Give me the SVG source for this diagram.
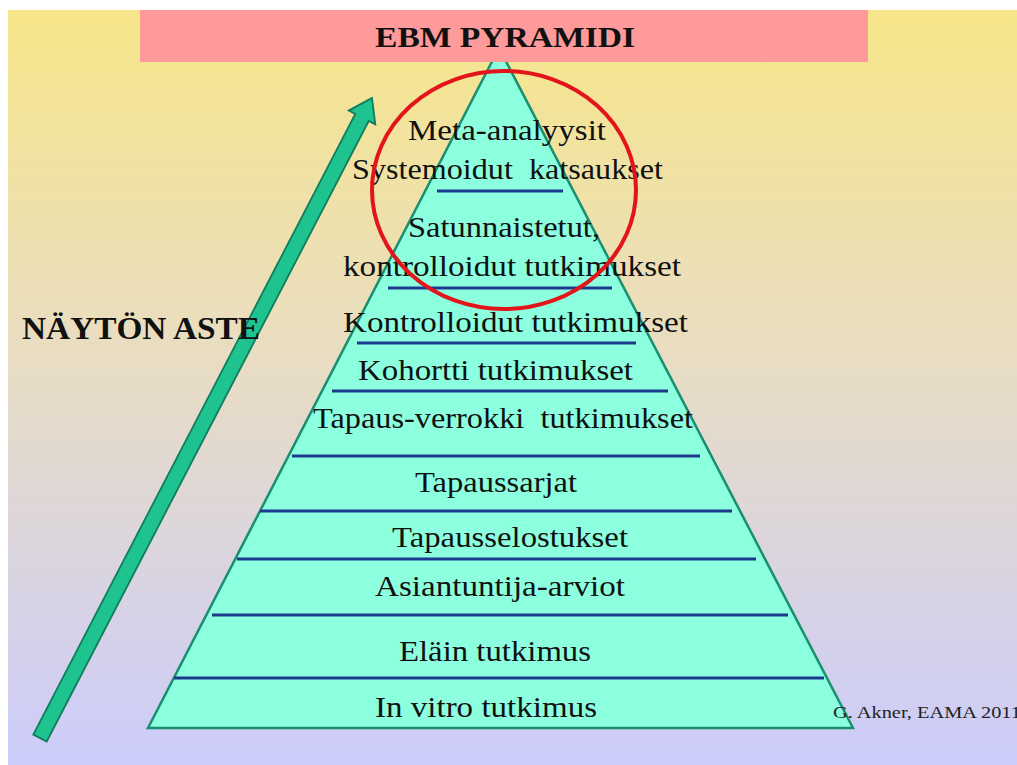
<svg xmlns="http://www.w3.org/2000/svg" width="1017" height="765" viewBox="0 0 1017 765">
  <defs>
    <linearGradient id="bg" x1="0" y1="0" x2="0" y2="1">
      <stop offset="0" stop-color="#F7E689"/>
      <stop offset="0.45" stop-color="#E9DDC2"/>
      <stop offset="1" stop-color="#CCCCFB"/>
    </linearGradient>
    <style>
      .div { stroke: #1B3A8E; stroke-width: 3; }
    </style>
  </defs>

  <!-- page -->
  <rect x="0" y="0" width="1017" height="765" fill="#FFFFFF"/>
  <rect x="8" y="10" width="1009" height="755" fill="url(#bg)"/>

  <!-- evidence-level arrow -->
  <g id="arrow">
    <polygon points="372,98 375.3,124.4 368.7,121 46.7,741.5 33.3,734.5 355.3,114 348.7,110.6" fill="#1FC38F" stroke="#0F7D5C" stroke-width="1.8"/>
  </g>

  <!-- pyramid body -->
  <g id="pyramid">
    <polygon points="499,48 853,728 148,728" fill="#8CFFDF" stroke="#1A8F70" stroke-width="2.5"/>
  </g>

  <!-- title bar -->
  <g id="title" font-family="Liberation Serif, serif" font-weight="bold" fill="#111">
    <rect x="140" y="10" width="728" height="52" fill="#FF9A9A"/>
    <text x="375" y="47" font-size="30" textLength="260" lengthAdjust="spacingAndGlyphs">EBM PYRAMIDI</text>
  </g>

  <!-- level separators -->
  <g id="dividers">
    <line class="div" x1="437" y1="191" x2="563" y2="191"/>
    <line class="div" x1="388" y1="288" x2="612" y2="288"/>
    <line class="div" x1="357" y1="343" x2="636" y2="343"/>
    <line class="div" x1="332" y1="391" x2="668" y2="391"/>
    <line class="div" x1="292" y1="456" x2="700" y2="456"/>
    <line class="div" x1="260" y1="511" x2="732" y2="511"/>
    <line class="div" x1="237" y1="559" x2="756" y2="559"/>
    <line class="div" x1="212" y1="615" x2="788" y2="615"/>
    <line class="div" x1="174" y1="678" x2="824" y2="678"/>
  </g>

  <!-- level labels -->
  <g id="levels" font-family="Liberation Serif, serif" font-size="30" fill="#111">
    <g id="level-1">
      <text x="408" y="140" textLength="198" lengthAdjust="spacingAndGlyphs">Meta-analyysit</text>
      <text x="352" y="179" textLength="311" lengthAdjust="spacingAndGlyphs">Systemoidut&#160; katsaukset</text>
    </g>
    <g id="level-2">
      <text x="408" y="237" textLength="192" lengthAdjust="spacingAndGlyphs">Satunnaistetut,</text>
      <text x="343" y="276" textLength="338" lengthAdjust="spacingAndGlyphs">kontrolloidut tutkimukset</text>
    </g>
    <g id="level-3">
      <text x="343" y="332" textLength="345" lengthAdjust="spacingAndGlyphs">Kontrolloidut tutkimukset</text>
    </g>
    <g id="level-4">
      <text x="358" y="380" textLength="275" lengthAdjust="spacingAndGlyphs">Kohortti tutkimukset</text>
    </g>
    <g id="level-5">
      <text x="313" y="428" textLength="380" lengthAdjust="spacingAndGlyphs">Tapaus-verrokki&#160; tutkimukset</text>
    </g>
    <g id="level-6">
      <text x="415" y="492" textLength="162" lengthAdjust="spacingAndGlyphs">Tapaussarjat</text>
    </g>
    <g id="level-7">
      <text x="392" y="547" textLength="236" lengthAdjust="spacingAndGlyphs">Tapausselostukset</text>
    </g>
    <g id="level-8">
      <text x="375" y="596" textLength="250" lengthAdjust="spacingAndGlyphs">Asiantuntija-arviot</text>
    </g>
    <g id="level-9">
      <text x="399" y="661" textLength="192" lengthAdjust="spacingAndGlyphs">Eläin tutkimus</text>
    </g>
    <g id="level-10">
      <text x="375" y="717" textLength="222" lengthAdjust="spacingAndGlyphs">In vitro tutkimus</text>
    </g>
  </g>

  <!-- highlight ring around the top levels -->
  <g id="highlight">
    <ellipse cx="504" cy="190" rx="132" ry="119" fill="none" stroke="#E3141A" stroke-width="4"/>
  </g>

  <!-- side caption -->
  <g id="axis-label" font-family="Liberation Serif, serif" font-weight="bold" fill="#111">
    <text x="22" y="339" font-size="32" textLength="238" lengthAdjust="spacingAndGlyphs">NÄYTÖN ASTE</text>
  </g>

  <!-- credit -->
  <g id="credit" font-family="Liberation Serif, serif" fill="#222">
    <text x="833" y="718" font-size="17" textLength="188" lengthAdjust="spacingAndGlyphs">G. Akner, EAMA 2011</text>
  </g>
</svg>
